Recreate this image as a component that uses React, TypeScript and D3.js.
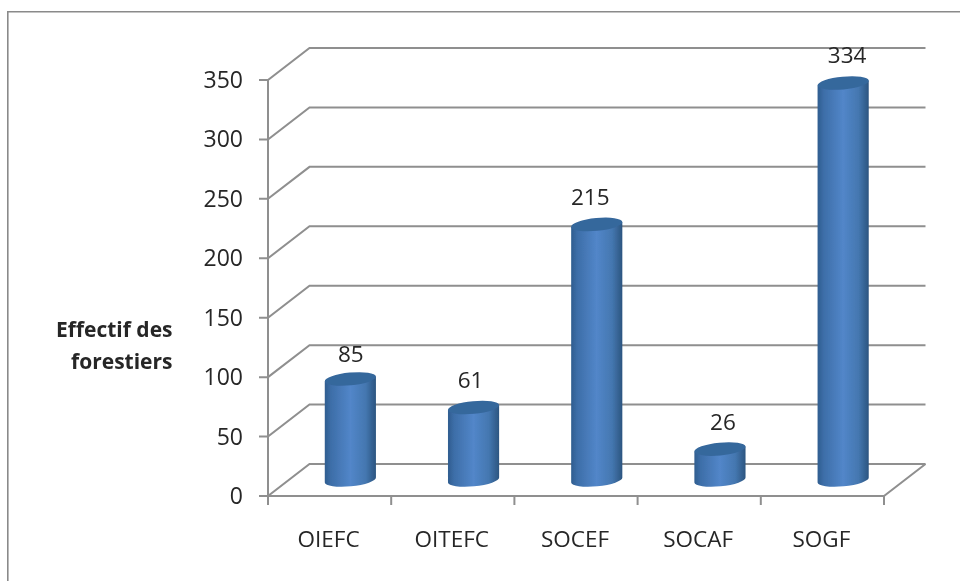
import React from "react";
import * as d3 from "d3";

const categories = ["OIEFC", "OITEFC", "SOCEF", "SOCAF", "SOGF"];
const values = [85, 61, 215, 26, 334];
const yTicks = [0, 50, 100, 150, 200, 250, 300, 350];
const yTitle = ["Effectif des", "forestiers"];

const WIDTH = 960;
const HEIGHT = 581;
const FONT = "'Open Sans', 'Noto Sans', sans-serif";
const GRID = "#8f8f8f";
const TEXT = "#262626";

const x0 = 268;
const x1 = 884;
const dx = 41.5;
const dy = -32;
const y = d3.scaleLinear().domain([0, 350]).range([496, 80]);
const x = d3.scaleBand<string>().domain(categories).range([x0, x1]);
const edges = [...categories.map((c) => x(c) as number), x1];
const rx = 25.7;
const ry = 6.4;
const tilt = -5.6;
const tiltRad = (tilt * Math.PI) / 180;

// small hand placement of the data labels, as in the source chart
const labelShiftX = [0.5, -3, -6.5, 3, 4];
const labelShiftY = [-17, -19.5, -19.5, -19, -20];

function cylinderBody(cx: number, top: number, bottom: number) {
  const ex = rx * Math.cos(tiltRad);
  const ey = rx * Math.sin(tiltRad);
  return `M${cx - ex},${top - ey} L${cx + ex},${top + ey} L${cx + ex},${bottom + ey} A${rx},${ry} ${tilt} 0 1 ${cx - ex},${bottom - ey} Z`;
}

export default function App() {
  return (
    <svg
      width={WIDTH}
      height={HEIGHT}
      viewBox={`0 0 ${WIDTH} ${HEIGHT}`}
      style={{ position: "absolute", left: 0, top: 0, background: "#fff" }}
    >
      <defs>
        <linearGradient id="cyl" x1="0" x2="1" y1="0" y2="0">
          <stop offset="0" stopColor="#2f5d8f" />
          <stop offset="0.12" stopColor="#3d6ea8" />
          <stop offset="0.5" stopColor="#5286c9" />
          <stop offset="0.8" stopColor="#4477b0" />
          <stop offset="1" stopColor="#2c5580" />
        </linearGradient>
        <filter id="soft" x="0" y="0" width="100%" height="100%">
          <feGaussianBlur stdDeviation="0.35" />
        </filter>
      </defs>

      <g filter="url(#soft)">
        <path d={`M7.5,581 V11.5 H960`} fill="none" stroke="#8a8a8a" strokeWidth={2.2} />

        {yTicks.map((t) => (
          <g key={t}>
            <path
              d={`M${x0 - 9},${y(t)} H${x0} L${x0 + dx},${y(t) + dy} H${x1 + dx}`}
              fill="none"
              stroke={GRID}
              strokeWidth={2}
            />
            <text
              x={x0 - 25}
              y={y(t) + 8}
              textAnchor="end"
              fontFamily={FONT}
              fontSize={23}
              fill={TEXT}
            >
              {t}
            </text>
          </g>
        ))}
        <path
          d={`M${x0},${y(350)} V${y(0)} H${x1} L${x1 + dx},${y(0) + dy}`}
          fill="none"
          stroke={GRID}
          strokeWidth={2}
        />
        {edges.map((e) => (
          <line key={e} x1={e} x2={e} y1={y(0)} y2={y(0) + 9} stroke={GRID} strokeWidth={2} />
        ))}

        {categories.map((c, i) => {
          const center = (x(c) as number) + x.bandwidth() / 2;
          const cx = center + dx / 2;
          const bottom = y(0) + dy / 2;
          const top = y(values[i]) + dy / 2;
          return (
            <g key={c}>
              <path d={cylinderBody(cx, top, bottom)} fill="url(#cyl)" />
              <ellipse
                cx={cx}
                cy={top}
                rx={rx}
                ry={ry}
                fill="#36679c"
                transform={`rotate(${tilt} ${cx} ${top})`}
              />
              <text
                x={cx + labelShiftX[i]}
                y={top + labelShiftY[i]}
                textAnchor="middle"
                fontFamily={FONT}
                fontSize={22.5}
                fill={TEXT}
              >
                {values[i]}
              </text>
              <text
                x={center - 1}
                y={547}
                textAnchor="middle"
                fontFamily={FONT}
                fontSize={22.5}
                fill={TEXT}
              >
                {c}
              </text>
            </g>
          );
        })}

        {yTitle.map((line, i) => (
          <text
            key={line}
            x={172.5}
            y={337 + i * 32}
            textAnchor="end"
            fontFamily={FONT}
            fontSize={21}
            fontWeight={700}
            fill={TEXT}
          >
            {line}
          </text>
        ))}
      </g>
    </svg>
  );
}
